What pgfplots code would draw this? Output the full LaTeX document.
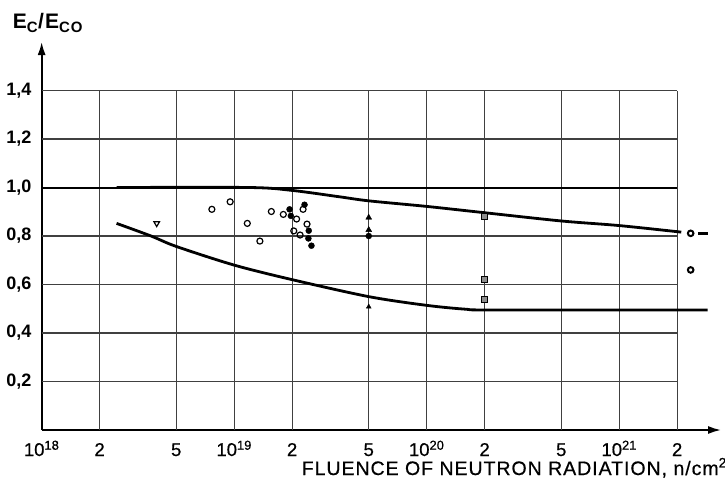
\documentclass[border=0pt]{standalone}
\usepackage{fontspec}
\setmainfont{Liberation Sans}
\newfontfamily\labfont[LetterSpace=5,FakeBold=0.6]{Liberation Sans}
\newfontfamily\tickfont[FakeBold=0.6]{Liberation Sans}
\newfontfamily\ylabfont[LetterSpace=6]{Liberation Sans}
\usepackage{pgfplots}
\pgfplotsset{compat=1.18}
\usetikzlibrary{arrows.meta}

\tikzset{gridline/.style={line width=1.2pt, black!75}}

\begin{document}
\begin{tikzpicture}
\begin{axis}[
  width=679.4pt, height=388pt, scale only axis,
  xmode=log, xmin=1e18, xmax=3.38e21,
  ymin=0, ymax=1.6,
  axis lines=left,
  axis line style={line width=1.8pt, -{Latex[length=13pt,width=8pt]}},
  xtick={1e18,2e18,5e18,1e19,2e19,5e19,1e20,2e20,5e20,1e21,2e21},
  xticklabels={10\textsuperscript{18},2,5,10\textsuperscript{19},2,5,10\textsuperscript{20},2,5,10\textsuperscript{21},2},
  ytick={0.2,0.4,0.6,0.8,1.0,1.2,1.4},
  yticklabels={{0,2},{0,4},{0,6},{0,8},{1,0},{1,2},{1,4}},
  major tick length=0pt, minor tick length=0pt,
  xticklabel style={font=\fontsize{18.5}{20}\selectfont\tickfont, anchor=base, inner sep=0pt, yshift=-26pt},
  yticklabel style={font=\fontsize{18}{20}\selectfont\bfseries, anchor=east, inner sep=0pt, xshift=-10pt},
  clip=false,
]
\coordinate (O) at (rel axis cs:0,0);

% grid, only up to 2e21 and 1.4
\pgfplotsinvokeforeach{2e18,5e18,1e19,2e19,5e19,1e20,2e20,5e20,1e21,2e21}{
  \draw[gridline] (axis cs:#1,0) -- (axis cs:#1,1.4);
}
\pgfplotsinvokeforeach{0.2,0.4,0.6,0.8,1.2,1.4}{
  \draw[gridline] (axis cs:1e18,#1) -- (axis cs:2e21,#1);
}
\draw[line width=2pt] (axis cs:1e18,1) -- (axis cs:2e21,1);

% upper boundary
\addplot[line width=2.8pt, smooth, tension=0.5] coordinates {
  (2.45e18,1.0) (1.2e19,1.0) (2e19,0.988) (3.5e19,0.962) (5e19,0.945)
  (1e20,0.922) (2e20,0.896) (5e20,0.862) (1e21,0.843) (2.1e21,0.816)
};
\addplot[line width=2.4pt] coordinates {(2.58e21,0.811) (2.88e21,0.811)};

% lower boundary
\addplot[line width=2.8pt, smooth, tension=0.5] coordinates {
  (2.45e18,0.852) (3.7e18,0.800) (5e18,0.757) (1e19,0.680) (2e19,0.620)
  (5e19,0.550) (1e20,0.514) (1.6e20,0.498) (2.2e20,0.495) (2.88e21,0.495)
};

% open circles
\addplot[only marks, mark=o, mark size=3pt, mark options={line width=1.2pt}] coordinates {
  (7.66e18,0.910) (9.53e18,0.941) (1.17e19,0.852) (1.36e19,0.779)
  (1.56e19,0.901) (1.80e19,0.889) (2.11e19,0.870) (2.28e19,0.910)
  (2.39e19,0.849) (2.04e19,0.821) (2.20e19,0.804)
};
% filled circles
\addplot[only marks, mark=*, mark size=3pt] coordinates {
  (1.94e19,0.910) (1.97e19,0.883) (2.32e19,0.929) (2.44e19,0.822)
  (2.43e19,0.790) (2.52e19,0.760) (5e19,0.800)
};
% open triangle down
\addplot[only marks, mark=triangle, mark size=3.2pt, mark options={rotate=180, line width=1.2pt}] coordinates {
  (3.96e18,0.852)
};
% filled triangles
\addplot[only marks, mark=triangle*, mark size=3.4pt] coordinates {
  (5e19,0.876) (5e19,0.825)
};
\addplot[only marks, mark=triangle*, mark size=2.8pt] coordinates {
  (5e19,0.508)
};
% squares
\addplot[only marks, mark=square*, mark size=3.2pt, mark options={fill=black!45, draw=black, line width=1.2pt}] coordinates {
  (2e20,0.882) (2e20,0.620) (2e20,0.538)
};
% circles beyond 2e21
\addplot[only marks, mark=o, mark size=2.8pt, mark options={line width=2pt}] coordinates {
  (2.35e21,0.811) (2.35e21,0.660)
};
\end{axis}

\node[anchor=base west, inner sep=0pt, font=\fontsize{21}{22}\selectfont\ylabfont\bfseries]
  at ([shift={(-29pt,401pt)}]O) {E\textsubscript{\fontsize{15}{16}\selectfont C}/E\textsubscript{\fontsize{15}{16}\selectfont CO}};
\node[anchor=base west, inner sep=0pt, font=\fontsize{19.5}{21}\selectfont\labfont]
  at ([shift={(260pt,-45pt)}]O) {FLUENCE OF NEUTRON RADIATION, n/cm\textsuperscript{2}};

\pgfresetboundingbox
\path[use as bounding box] ([shift={(-41.6pt,-50pt)}]O) rectangle ([shift={(683.4pt,430pt)}]O);
\end{tikzpicture}
\end{document}
